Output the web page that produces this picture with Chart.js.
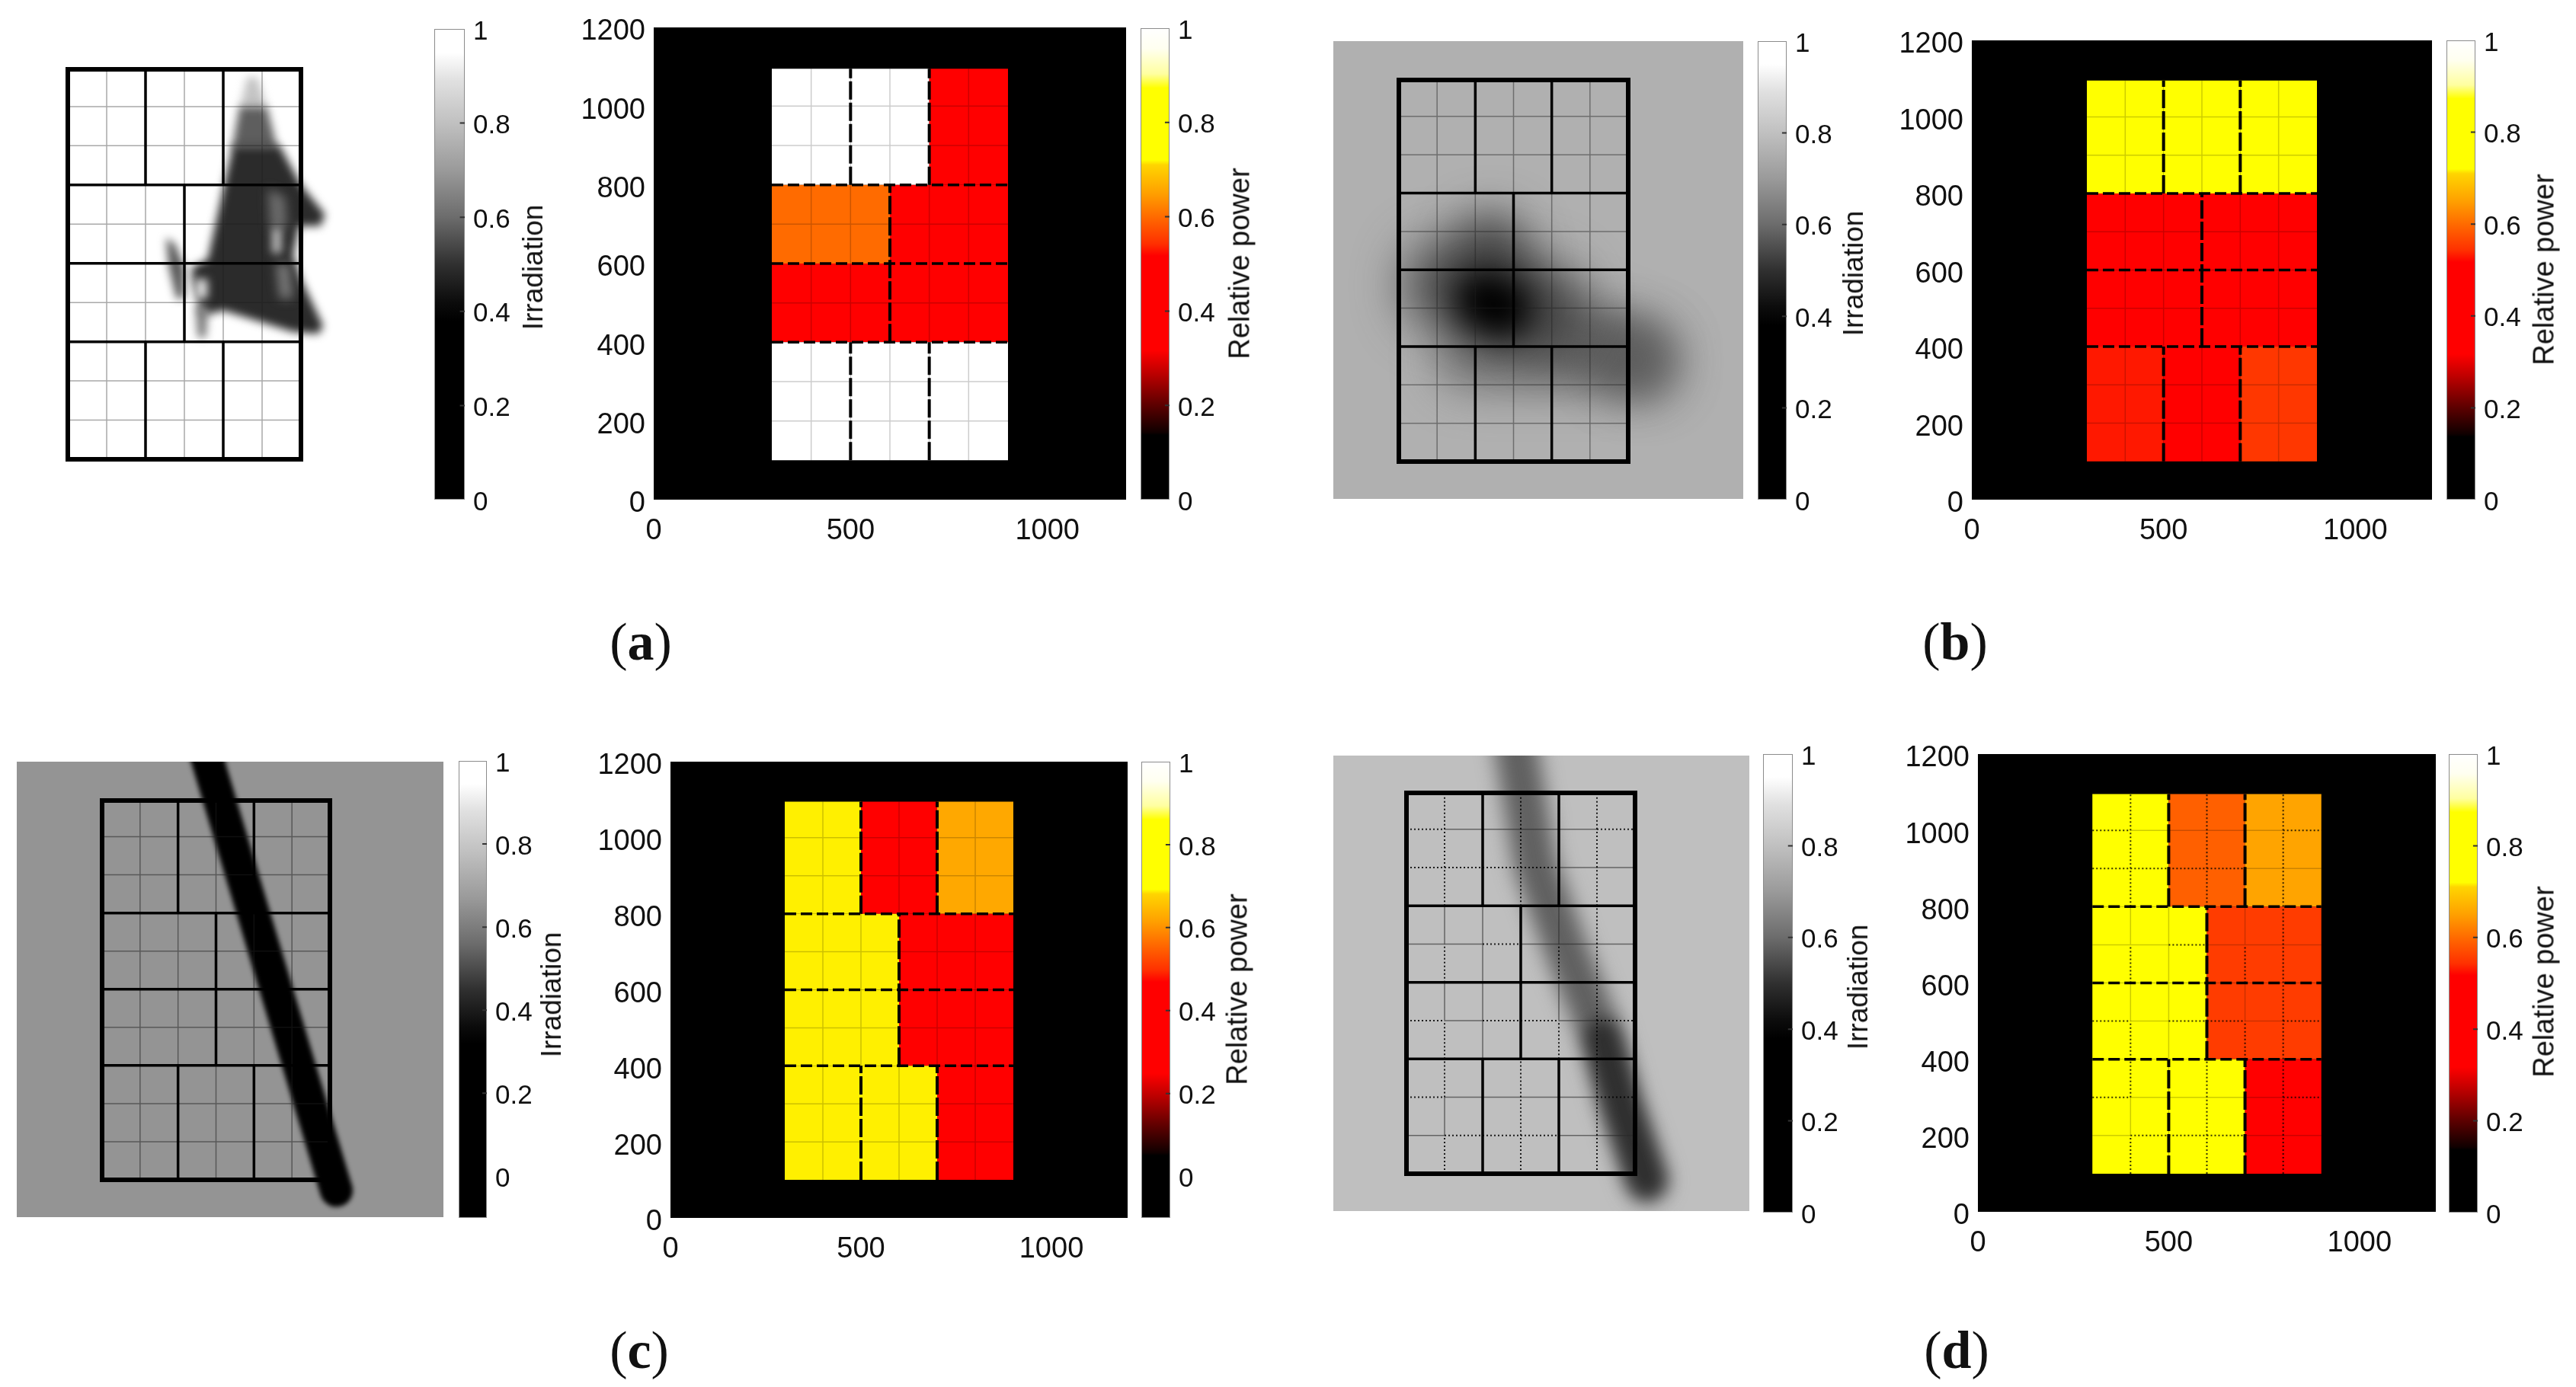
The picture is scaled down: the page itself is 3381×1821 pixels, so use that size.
<!DOCTYPE html>
<html lang="en">
<head>
  <meta charset="UTF-8" />
  <title>Irradiation and relative power maps</title>
  <style>
    html, body { margin: 0; background: #fff; }
    body { position: relative; width: 3381px; height: 1821px; overflow: hidden; font-family: "Liberation Sans", Arial, sans-serif; color: #111; }
    canvas { position: absolute; filter: blur(0.6px); }
    .title { position: absolute; white-space: nowrap; transform: translate(-50%, -50%) rotate(-90deg); }
    .tag { position: absolute; transform: translate(-50%, -50%); font: 70px "Liberation Serif", serif; }
  </style>
  <script src="https://cdn.jsdelivr.net/npm/chart.js"></script>
</head>
<body>
  <script>
    // tick labels
    const xTickValues = [0, 500, 1000];
    const yTickValues = [0, 200, 400, 600, 800, 1000, 1200];
    const barTickValues = [0, 0.2, 0.4, 0.6, 0.8, 1];

    // module layout of the array: x0, x1, y0, y1
    const moduleRects = [
      [300, 500, 800, 1095], [500, 700, 800, 1095], [700, 900, 800, 1095],
      [300, 600, 600, 800], [600, 900, 600, 800],
      [300, 600, 400, 600], [600, 900, 400, 600],
      [300, 500, 100, 400], [500, 700, 100, 400], [700, 900, 100, 400]
    ];
    const moduleLinesV = [[500, 800, 1095], [700, 800, 1095], [600, 400, 800], [500, 100, 400], [700, 100, 400]];
    const moduleLinesH = [[800, 300, 900], [600, 300, 900], [400, 300, 900]];

    // relative power of each module, same order as moduleRects
    const powerA = [1, 1, 0.42, 0.6, 0.42, 0.42, 0.42, 1, 1, 1];
    const powerB = [0.8, 0.8, 0.8, 0.44, 0.44, 0.44, 0.44, 0.53, 0.5, 0.55];
    const powerC = [0.688, 0.4, 0.625, 0.688, 0.4, 0.688, 0.4, 0.688, 0.688, 0.4];
    const powerD = [0.8, 0.59, 0.655, 0.8, 0.555, 0.8, 0.555, 0.8, 0.8, 0.45];

    // colour maps: fraction of the bar height, colour
    const hotStops = [[0, '#000000'], [0.137, '#000000'], [0.143, '#100000'], [0.203, '#600000'], [0.27, '#c00000'],
      [0.317, '#ff0000'], [0.517, '#ff0000'], [0.543, '#ff3000'], [0.59, '#ff6000'], [0.65, '#ffa000'],
      [0.71, '#ffd500'], [0.72, '#ffff00'], [0.873, '#ffff00'], [0.903, '#ffffa0'], [0.957, '#fffff0'], [1, '#ffffff']];
    const grayStops = [[0, '#000000'], [0.38, '#000000'], [0.42, '#0c0c0c'], [0.5, '#303030'], [0.6, '#6c6c6c'],
      [0.7, '#9a9a9a'], [0.8, '#c0c0c0'], [0.89, '#e0e0e0'], [0.95, '#ffffff'], [1, '#ffffff']];

    // panel (a) shadow outlines
    const shadeATip = [[762, 1075], [788, 1075], [812, 995], [742, 995]];
    const shadeAMid = [[742, 1000], [812, 1000], [840, 890], [722, 890]];
    const shadeACore = [[725, 900], [845, 900], [900, 800], [962, 725], [950, 695], [895, 695], [880, 620], [900, 560], [957, 440],
      [945, 420], [880, 425], [700, 480], [660, 470], [640, 480], [620, 560], [620, 590], [660, 610], [700, 790]];
    const shadeATail = [[553, 665], [575, 650], [600, 590], [600, 510], [580, 510], [560, 590]];
    const shadeAFoot = [[628, 490], [662, 490], [655, 410], [635, 410]];
    const shadeASpotSoft = [[815, 790], [860, 770], [865, 690], [820, 690]];
    const shadeASpotLight = [[825, 690], [850, 690], [850, 625], [825, 625]];
    const shadeASpotLow = [[835, 600], [870, 600], [880, 510], [845, 510]];
    const shadeAHole = [[628, 560], [660, 560], [660, 510], [628, 510]];

    // panel (b) cloud
    const cloudBWide = [[430, 560], [660, 500]];
    const cloudBArm = [[650, 480], [930, 365]];
    const cloudBLow = [[480, 370], [900, 370]];
    const cloudBUp = [[540, 650], [540, 520]];
    const cloudBCore = [[525, 520], [570, 500]];
    const cloudBFar = [[915, 370], [930, 360]];

    // panel (c) pole shadow
    const poleC = [[560, 1260], [917, 72]];

    // panel (d) soft pole shadow
    const poleD = [[583, 1240], [639, 905], [721, 681], [813, 458], [864, 279], [931, 82]];
    const poleDLow = [[813, 458], [864, 279], [931, 82]];

    // thin lines of panel (d) that come out dotted: position, from, to
    const dottedV = [[400, 800, 1095], [400, 600, 700], [400, 300, 500], [400, 100, 200], [600, 800, 1095], [600, 100, 400],
      [700, 600, 700], [700, 400, 500], [800, 100, 1095]];
    const dottedH = [[1000, 300, 400], [1000, 800, 900], [900, 300, 700], [700, 500, 600], [500, 300, 400], [500, 500, 700],
      [500, 800, 900], [300, 300, 400], [300, 800, 900], [200, 400, 700]];

    Chart.defaults.font.family = '"Liberation Sans", Arial, sans-serif';
    Chart.defaults.animation = false;

    // ctx.filter for the dataset about to be drawn; datasets draw last index first,
    // and it has to be set before the filler plugin paints
    const softPlugin = {
      id: 'soft',
      beforeDatasetsDraw(chart) { setSoft(chart, chart.data.datasets.length - 1); },
      afterDatasetDraw(chart, args) { setSoft(chart, args.index - 1); },
      afterDatasetsDraw(chart) { chart.ctx.filter = 'none'; }
    };
    function setSoft(chart, i) {
      const ds = chart.data.datasets[i];
      chart.ctx.filter = ds && ds.soft ? `blur(${ds.soft}px)` : 'none';
    }

    const pts = list => list.map(p => ({ x: p[0], y: p[1] }));
    const closed = list => pts(list.concat([list[0]]));
    const rectPts = (x0, x1, y0, y1) => closed([[x0, y0], [x1, y0], [x1, y1], [x0, y1]]);

    function lineDs(data, color, width, dash, soft) {
      return { type: 'scatter', data, showLine: true, borderColor: color, borderWidth: width, borderDash: dash || [],
        borderCapStyle: 'butt', pointRadius: 0, fill: false, tension: 0, clip: 0, soft: soft || 0 };
    }
    function roundDs(list, color, width, soft) {
      const ds = lineDs(pts(list), color, width, [], soft);
      ds.borderCapStyle = 'round';
      ds.borderJoinStyle = 'round';
      return ds;
    }
    function areaDs(data, color, soft) {
      return { type: 'scatter', data, showLine: true, borderWidth: 0, borderColor: 'transparent', backgroundColor: color,
        pointRadius: 0, fill: 'shape', tension: 0, clip: 0, soft: soft || 0 };
    }

    function inRanges(ranges, pos, a, b) {
      return ranges.some(r => r[0] === pos && a >= r[1] && b <= r[2]);
    }

    // 100-unit pieces of the thin cell lines, split into solid and dotted
    function thinLines(useDotted) {
      const solid = [], dotted = [];
      const add = (isDotted, a, b) => (isDotted ? dotted : solid).push(a, b, { x: NaN, y: NaN });
      moduleRects.forEach(([x0, x1, y0, y1]) => {
        for (let x = x0 + 100; x < x1; x += 100) {
          for (let y = y0; y < y1; y += 100) {
            const top = Math.min(y + 100, y1);
            add(useDotted && inRanges(dottedV, x, y, top), { x, y }, { x, y: top });
          }
        }
        for (let y = y0 + 100; y < y1 - 50; y += 100) {
          for (let x = x0; x < x1; x += 100) {
            add(useDotted && inRanges(dottedH, y, x, x + 100), { x, y }, { x: x + 100, y });
          }
        }
      });
      return { solid, dotted };
    }

    const segV = list => list.flatMap(([x, a, b]) => [{ x, y: a }, { x, y: b }, { x: NaN, y: NaN }]);
    const segH = list => list.flatMap(([y, a, b]) => [{ x: a, y }, { x: b, y }, { x: NaN, y: NaN }]);

    function mix(c1, c2, t) {
      const p = c => [1, 3, 5].map(i => parseInt(c.substr(i, 2), 16));
      const a = p(c1), b = p(c2);
      return `rgb(${a.map((v, i) => Math.round(v + (b[i] - v) * t)).join(',')})`;
    }
    function colorAt(stops, f) {
      for (let i = 1; i < stops.length; i++) {
        if (f <= stops[i][0]) {
          return mix(stops[i - 1][1], stops[i][1], (f - stops[i - 1][0]) / (stops[i][0] - stops[i - 1][0]));
        }
      }
      return stops[stops.length - 1][1];
    }

    function mount(left, top, width, height) {
      const canvas = document.createElement('canvas');
      canvas.width = width;
      canvas.height = height;
      canvas.style.left = left + 'px';
      canvas.style.top = top + 'px';
      canvas.style.width = width + 'px';
      canvas.style.height = height + 'px';
      document.body.appendChild(canvas);
      return canvas;
    }

    function addText(cls, html, x, y, size) {
      const el = document.createElement('div');
      el.className = cls;
      el.innerHTML = html;
      el.style.left = x + 'px';
      el.style.top = y + 'px';
      if (size) el.style.fontSize = size + 'px';
      document.body.appendChild(el);
    }

    // datasets are passed in paint order
    function draw(canvas, datasets, options) {
      return new Chart(canvas, {
        data: { datasets: datasets.reverse() },
        options: Object.assign({ responsive: false, plugins: { legend: { display: false }, tooltip: { enabled: false } } }, options),
        plugins: [softPlugin]
      });
    }

    // relative power heat map with its axes
    function heatMap(p, values, yMin, dottedToo) {
      const padL = 130, padB = 70, padT = 30, padR = 12;
      const canvas = mount(p.x0 - padL, p.y0 - padT, p.x1 - p.x0 + padL + padR, p.y1 - p.y0 + padT + padB);
      const thin = thinLines(dottedToo);
      const ds = [areaDs(rectPts(0, 1200, 0, 1200), '#000000')];
      moduleRects.forEach((r, i) => {
        ds.push(areaDs(rectPts(r[0], r[1], r[2], r[3]), colorAt(hotStops, (values[i] - yMin) / (1 - yMin))));
      });
      ds.push(lineDs(thin.solid, 'rgba(0,0,0,0.2)', 1.5));
      if (dottedToo) ds.push(lineDs(thin.dotted, 'rgba(0,0,0,0.8)', 2, [2, 3]));
      ds.push(lineDs(segH(moduleLinesH), '#000000', 3.5, [15, 6]));
      ds.push(lineDs(segV(moduleLinesV), '#000000', 4, [24, 4]));
      const tickFont = { size: 38 };
      const plainLabel = v => String(v);
      draw(canvas, ds, {
        layout: { padding: { top: padT, right: padR } },
        scales: {
          x: { type: 'linear', min: 0, max: 1200, grid: { display: false }, border: { display: false },
            afterBuildTicks: s => { s.ticks = xTickValues.map(value => ({ value })); },
            afterFit: s => { s.height = padB; },
            ticks: { font: tickFont, color: '#111', padding: 11, maxRotation: 0, autoSkip: false, callback: plainLabel } },
          y: { type: 'linear', min: 0, max: 1200, grid: { display: false }, border: { display: false },
            afterBuildTicks: s => { s.ticks = yTickValues.map(value => ({ value })); },
            afterFit: s => { s.width = padL; },
            ticks: { font: tickFont, color: '#111', padding: 3, labelOffset: 6, autoSkip: false, callback: plainLabel } }
        }
      });
    }

    // vertical colour bar, bottom of the axis at yMin
    function colorBar(b, stops, yMin, title, titleSize, titleX, titleY) {
      const padT = 28, padB = 28, padL = 2, labelW = 70;
      const canvas = mount(b.x0 - padL, b.y0 - padT, b.x1 - b.x0 + padL + labelW, b.y1 - b.y0 + padT + padB);
      // the plot area is fixed by the paddings above, so the gradient runs over it directly
      const gradient = canvas.getContext('2d').createLinearGradient(0, padT + b.y1 - b.y0, 0, padT);
      stops.forEach(s => gradient.addColorStop(s[0], s[1]));
      const inner = barTickValues.slice(1, -1);
      const ds = [
        areaDs(rectPts(0, 1, yMin, 1), gradient),
        lineDs(rectPts(0, 1, yMin, 1), '#8c8c8c', 2),
        lineDs(inner.flatMap(v => [{ x: 0.84, y: v }, { x: 1, y: v }, { x: NaN, y: NaN }]), '#333333', 2)
      ];
      draw(canvas, ds, {
        layout: { padding: { top: padT, bottom: padB, left: padL } },
        scales: {
          x: { type: 'linear', min: 0, max: 1, display: false },
          y: { type: 'linear', position: 'right', min: yMin, max: 1, grid: { display: false }, border: { display: false },
            afterBuildTicks: s => { s.ticks = barTickValues.map(value => ({ value })); },
            afterFit: s => { s.width = labelW; },
            ticks: { font: { size: 35 }, color: '#111', padding: 3, labelOffset: 4, autoSkip: false, callback: v => String(v) } }
        }
      });
      addText('title', title, titleX, titleY, titleSize);
    }

    // irradiation map: image extent img, outer edge of the array frame rect
    function irradianceMap(img, rect, background, shades, thinColor, dottedToo) {
      const inset = 3;
      const ux = (rect.x1 - rect.x0 - 2 * inset) / 600;
      const uy = (rect.y1 - rect.y0 - 2 * inset) / 995;
      const xMin = 300 - (rect.x0 + inset - img.x0) / ux;
      const xMax = 900 + (img.x1 - rect.x1 + inset) / ux;
      const yMin = 100 - (img.y1 - rect.y1 + inset) / uy;
      const yMax = 1095 + (rect.y0 + inset - img.y0) / uy;
      const canvas = mount(img.x0, img.y0, img.x1 - img.x0, img.y1 - img.y0);
      const thin = thinLines(dottedToo);
      const ds = [];
      if (background) ds.push(areaDs(rectPts(xMin, xMax, yMin, yMax), background));
      ds.push(...shades);
      ds.push(lineDs(thin.solid, thinColor, 1.5));
      if (dottedToo) ds.push(lineDs(thin.dotted, 'rgba(0,0,0,0.85)', 2, [2, 3]));
      ds.push(lineDs(segH(moduleLinesH), '#000000', 3.5));
      ds.push(lineDs(segV(moduleLinesV), '#000000', 3.5));
      const frame = lineDs(rectPts(300, 900, 100, 1095), '#000000', 6);
      frame.borderCapStyle = 'square';
      ds.push(frame);
      draw(canvas, ds, {
        scales: {
          x: { type: 'linear', min: xMin, max: xMax, display: false },
          y: { type: 'linear', min: yMin, max: yMax, display: false }
        }
      });
    }

    const soft = 6;
    irradianceMap({ x0: 8, x1: 476, y0: 36, y1: 658 }, { x0: 86, x1: 398, y0: 88, y1: 606 }, null, [
      areaDs(closed(shadeATip), '#c4c4c4', soft),
      areaDs(closed(shadeAMid), '#5e5e5e', soft),
      areaDs(closed(shadeACore), '#2b2b2b', soft),
      areaDs(closed(shadeATail), '#555555', soft),
      areaDs(closed(shadeAFoot), '#777777', soft),
      areaDs(closed(shadeASpotSoft), '#6a6a6a', 7),
      areaDs(closed(shadeASpotLight), '#bbbbbb', 6),
      areaDs(closed(shadeASpotLow), '#777777', 7),
      areaDs(closed(shadeAHole), '#dddddd', 6)
    ], 'rgba(30,30,30,0.38)');
    colorBar({ x0: 570, x1: 610, y0: 38, y1: 656 }, grayStops, 0, 'Irradiation', 37, 700, 351);
    heatMap({ x0: 858, x1: 1478, y0: 36, y1: 656 }, powerA, 0);
    colorBar({ x0: 1497, x1: 1535, y0: 37, y1: 656 }, hotStops, 0, 'Relative power', 38, 1627, 346);
    addText('tag', '(<b>a</b>)', 841, 843);

    irradianceMap({ x0: 1750, x1: 2288, y0: 54, y1: 655 }, { x0: 1833, x1: 2140, y0: 102, y1: 609 }, '#b0b0b0', [
      roundDs(cloudBLow, 'rgba(90,90,90,0.7)', 80, 30),
      roundDs(cloudBArm, 'rgba(85,85,85,0.8)', 85, 30),
      roundDs(cloudBFar, 'rgba(90,90,90,0.75)', 90, 30),
      roundDs(cloudBUp, 'rgba(50,50,50,0.75)', 100, 28),
      roundDs(cloudBWide, 'rgba(60,60,60,0.85)', 120, 32),
      roundDs(cloudBCore, '#000000', 75, 20)
    ], 'rgba(30,30,30,0.45)');
    colorBar({ x0: 2307, x1: 2345, y0: 54, y1: 656 }, grayStops, 0, 'Irradiation', 37, 2433, 359);
    heatMap({ x0: 2588, x1: 3192, y0: 53, y1: 656 }, powerB, 0);
    colorBar({ x0: 3211, x1: 3249, y0: 53, y1: 656 }, hotStops, 0, 'Relative power', 38, 3339, 354);
    addText('tag', '(<b>b</b>)', 2566, 843);

    irradianceMap({ x0: 22, x1: 582, y0: 1000, y1: 1598 }, { x0: 131, x1: 436, y0: 1048, y1: 1552 }, '#949494', [
      roundDs(poleC, '#000000', 43, 3)
    ], 'rgba(30,30,30,0.5)');
    colorBar({ x0: 602, x1: 639, y0: 999, y1: 1599 }, grayStops, -0.1, 'Irradiation', 37, 724, 1306);
    heatMap({ x0: 880, x1: 1480, y0: 1000, y1: 1599 }, powerC, -0.1);
    colorBar({ x0: 1498, x1: 1536, y0: 1000, y1: 1599 }, hotStops, -0.1, 'Relative power', 38, 1624, 1299);
    addText('tag', '(<b>c</b>)', 839, 1773);

    irradianceMap({ x0: 1750, x1: 2296, y0: 992, y1: 1590 }, { x0: 1843, x1: 2149, y0: 1038, y1: 1544 }, '#bfbfbf', [
      roundDs(poleD, '#606060', 56, 13),
      roundDs(poleDLow, 'rgba(30,30,30,0.75)', 46, 11)
    ], 'rgba(40,40,40,0.6)', true);
    colorBar({ x0: 2314, x1: 2353, y0: 990, y1: 1592 }, grayStops, 0, 'Irradiation', 37, 2439, 1296);
    heatMap({ x0: 2596, x1: 3197, y0: 990, y1: 1591 }, powerD, 0, true);
    colorBar({ x0: 3214, x1: 3252, y0: 990, y1: 1592 }, hotStops, 0, 'Relative power', 38, 3339, 1289);
    addText('tag', '(<b>d</b>)', 2568, 1773);
  </script>
</body>
</html>
